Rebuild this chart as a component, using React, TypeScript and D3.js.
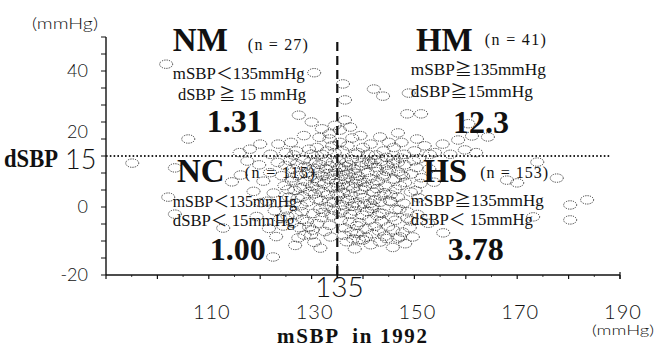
import React from "react";
import * as d3 from "d3";

// mSBP (mmHg) vs dSBP (mmHg), one pair per subject
const nmPoints: [number, number][] = [
  [101.7, 42], [130.5, 39.5], [106, 20], [120, 18.5], [123.5, 18.5], [126, 19],
  [127.5, 27], [130, 25], [132, 23], [133.5, 20], [129.5, 17], [131, 17.5],
  [133, 16.5], [125, 16], [127, 16.5], [128.5, 21], [131.5, 20.5], [134, 18],
  [134.5, 24], [116, 16], [132, 15.5], [130, 15.5], [126.5, 15.3], [134.5, 16],
  [133.5, 21.5], [122, 15.5], [118, 17],
];

const hmPoints: [number, number][] = [
  [136.1, 36.2], [136.5, 31.5], [142.1, 34.7], [143.9, 32.6], [148.9, 33.5], [148.6, 27.4],
  [151.3, 27.4], [136.5, 25.6], [135.5, 22.6], [137.9, 20.3], [143.3, 20.6], [146.8, 21.8],
  [158.5, 19.7], [161.2, 20.9], [164.3, 20.6], [160.5, 24.5], [159.8, 16.8], [140, 17.5],
  [139, 16], [141.5, 18.5], [144, 16.5], [146, 17.5], [148, 15.5], [150, 16.5],
  [152, 18], [154, 16], [137, 18], [136, 16.5], [138.5, 15.5], [142.5, 15.3],
  [145, 19], [155.5, 18.5], [157, 15.5], [150.5, 20], [139.5, 21], [147.5, 19],
  [153, 15.5], [162, 16], [141, 15.5], [135.5, 19], [137.5, 23.5],
];

const ncPoints: [number, number][] = [
  [95.1, 12.9], [103.4, 11.5], [114.5, 7.4], [102.1, 2.9], [103.4, -2.1], [112.8, -6.2], [122.5, -14.7],
  [128.3, 3.1], [130.7, 8.4], [132.2, -1.6], [126.4, 11.2], [133.8, 5.7], [129.1, -4.3], [131.5, 12.6],
  [124.7, 6.3], [127.9, 0.4], [133.1, 9.8], [130.2, -6.8], [125.6, 2.9], [132.7, 13.4], [128.8, 7.5],
  [121.9, 10.1], [134.3, 1.2], [129.6, 4.6], [131.9, -3.1], [126.9, -2.2], [123.4, 13.1], [133.5, -5.4],
  [127.2, 9.3], [130.9, 2.2], [119.8, 12.4], [132.4, 6.9], [125.1, -0.8], [128.5, 13.9], [134.6, 10.6],
  [122.6, 4.1], [129.9, -8.2], [131.2, 5.3], [126.1, 7.8], [133.9, -2.6], [127.6, -6.1], [130.4, 11.4],
  [124.2, 9.2], [132.9, 0.1], [128.1, -1.4], [134.1, 13.2], [121.3, 1.7], [129.4, 10.2], [131.6, -0.6],
  [126.7, 4.9], [133.2, 3.6], [125.8, 13.6], [130.1, 6.1], [127.4, -9.1], [132.1, 9.1], [123.9, -3.4],
  [134.8, 7.1], [128.7, 11.9], [131.1, -4.9], [120.6, 7.6], [129.2, 1.5], [133.6, 12.1], [126.3, -4.7],
  [130.6, 3.9], [124.9, 12.2], [132.6, -7.2], [127.8, 5.6], [134.4, -0.9], [122.8, -1.1], [129.7, 8.9],
  [131.8, 1.9], [125.4, 5.1], [133.3, 8.2], [128.2, -3.6], [130.8, 13.1], [126.6, 1.1], [132.3, 4.4],
  [118.7, 4.6], [129.5, -5.9], [134.9, 3.9], [127.1, 12.7], [131.4, 7.3], [124.5, -5.6], [133.7, -8.8],
  [128.9, 9.9], [130.3, -1.9], [126.2, 8.6], [132.8, 11.2], [121.7, -6.3], [129.8, 13.4], [131.3, 10.1],
  [125.3, -2.7], [133.4, 1.6], [127.3, 2.6], [130.5, -10.4], [134.2, 9.3], [128.4, 5.9], [116.2, 9.4],
  [119.3, -2.8], [123.1, -8.7], [117.5, 13.5], [120.2, 1.3], [126.8, -11.3], [131.7, -12.1], [128.6, -8.3],
];

const hsPoints: [number, number][] = [
  [173.9, 13.2], [177.7, 8.5], [183.6, 2.1], [180.3, 0.6], [180.3, -3.8], [173.1, -2.9], [170, 7.1],
  [168, 7.9], [147.2, -8.8], [149.7, -8.8], [155.6, -7.6], [140, -9.7], [143.3, -10.3],
  [136.2, 4.1], [138.7, 8.3], [135.4, 11.6], [140.1, 2.7], [137.5, -2.1], [141.9, 6.8], [136.8, 13.2],
  [139.3, -4.6], [135.9, 0.6], [142.6, 10.4], [138.1, 5.5], [137.2, 9.7], [140.8, -1.3], [136.5, -6.2],
  [143.4, 3.3], [139.7, 12.1], [135.6, 7.4], [141.2, -3.8], [138.4, 1.2], [144.1, 8.9], [137.8, 13.9],
  [140.4, 5.9], [136.1, -0.9], [142.3, -5.7], [139.1, 9.1], [135.2, 3.2], [145.2, 1.8], [138.9, -7.8],
  [141.6, 12.8], [137.1, 6.2], [143.8, -1.9], [136.7, 10.8], [140.6, -8.9], [139.5, 3.8], [135.7, -3.9],
  [142.9, 7.6], [138.2, 11.1], [146.3, 5.2], [137.4, -4.4], [141.4, 1.1], [136.4, 8.1], [144.7, 12.3],
  [139.9, -2.4], [135.3, 13.6], [143.1, -7.1], [138.6, 6.9], [140.9, 10.2], [137.9, 0.2], [147.4, 9.6],
  [136.9, 2.4], [142.1, 4.3], [139.2, -9.6], [145.6, -2.9], [135.8, 9.2], [141.1, 13.4], [138.3, -1.2],
  [144.4, 6.1], [137.3, 12.4], [140.2, 7.3], [143.6, -4.2], [136.3, -8.3], [146.8, 2.9], [139.6, 5.1],
  [142.4, 11.7], [138.8, -5.5], [135.1, 5.8], [141.7, -0.4], [145.1, 10.9], [137.6, 3.5], [140.5, -6.4],
  [148.2, 7.2], [136.6, 11.9], [143.3, 1.4], [139.8, 13.1], [142.8, -2.6], [138.5, 9.9], [144.9, -5.8],
  [137.7, -7.3], [141.3, 8.4], [147.1, -0.7], [136.1, 6.6], [140.3, 0.9], [145.9, 13.8], [139.4, 7.8],
  [143.9, 9.4], [135.5, -1.8], [142.2, 2.1], [138.1, -9.4], [149.3, 4.4], [141.8, -7.9], [137.1, 1.9],
  [146.1, 8.2], [140.7, 12.6], [144.2, -8.6], [139.1, 0.4], [150.4, 11.6], [142.7, 5.4], [136.8, -10.2],
  [148.6, -3.3], [145.4, 3.6], [147.2, 6.3], [148.6, -1.4], [146.8, 13.1], [149.4, 9.7], [145.9, -6.7],
  [147.9, 1.1], [150.2, 4.8], [144.6, -9.3], [148.1, 12.4], [149.3, -4.1], [146.8, 10.3], [151.4, 8.6],
  [147.7, -7.4], [150.8, 2.7], [149.9, 13.6], [146.4, -0.8], [152.9, 11.2], [150.6, -2.2], [151.2, 6.9],
  [148.2, -10.8], [143.5, 13.4], [149.1, -6.1], [145.4, 1.6], [147.8, 9.1], [146.8, -9.2], [144.1, 4.2],
  [145.9, 12.9], [143.2, -1.7], [144.6, 10.5], [146.3, -3.9], [147.3, 14.4], [144.6, 14.6], [150.9, 14.2],
  [141.5, -11.1], [145.8, -11.9], [138.4, -12.3], [153.8, 7.3], [152.7, -4.8], [142.3, 13.9], [141.9, 0.3],
];

const xTickLabels = [110, 130, 150, 170, 190];
const yTickLabels = [40, 20, 0, -20];
const mSBPCut = 135;
const dSBPCut = 15;

const serif = "'Liberation Serif', 'Noto Sans CJK JP', serif";
const thin = "Lato, 'DejaVu Sans', sans-serif";

const x = d3.scaleLinear().domain([90, 190]).range([106, 620]);
const y = d3.scaleLinear().domain([-20, 50]).range([275, 37]);

// quadrant annotations, placed in data coordinates
const groups = [
  { name: "NM", n: "(n = 27)", nW: 60, l1: "mSBP＜135mmHg", l2: "dSBP ≧ 15 mmHg", or: "1.31",
    at: [103, 45.9], nAt: [117.6, 46.2], l1At: [103, 37.6], l1W: 132, l2At: [104, 31.4], l2W: 128, orAt: [109.6, 22] },
  { name: "HM", n: "(n = 41)", nW: 61, l1: "mSBP≧135mmHg", l2: "dSBP≧15mmHg", or: "12.3",
    at: [150.3, 45.9], nAt: [163.7, 47.6], l1At: [149.3, 38.8], l1W: 135, l2At: [149.3, 32.4], l2W: 122, orAt: [157.5, 21.8] },
  { name: "NC", n: "(n = 115)", nW: 70, l1: "mSBP＜135mmHg", l2: "dSBP＜ 15mmHg", or: "1.00",
    at: [103.8, 7.4], nAt: [117, 8.5], l1At: [103, 0], l1W: 124, l2At: [103, -5.6], l2W: 122, orAt: [110.2, -15.6] },
  { name: "HS", n: "(n = 153)", nW: 68, l1: "mSBP≧135mmHg", l2: "dSBP＜ 15mmHg", or: "3.78",
    at: [151.7, 7.4], nAt: [162.8, 8.5], l1At: [149.3, 0.3], l1W: 133, l2At: [149.3, -5.3], l2W: 122, orAt: [156.5, -15.6] },
];

function Dots({ data }: { data: [number, number][] }) {
  return (
    <g fill="none" stroke="#1a1a1a" strokeWidth={0.85} strokeDasharray="1.2 1.1">
      {data.map((d, i) => (
        <ellipse key={i} cx={x(d[0])} cy={y(d[1])} rx={6.5} ry={4.2} />
      ))}
    </g>
  );
}

export default function App() {
  const minorX = d3.range(90, 191, 5);
  const minorY = d3.range(-20, 51, 5);
  return (
    <svg width={656} height={349} style={{ position: "absolute", left: 0, top: 0, background: "#fff" }}>
      <Dots data={ncPoints} />
      <Dots data={hsPoints} />
      <Dots data={nmPoints} />
      <Dots data={hmPoints} />

      {/* axes */}
      <line x1={x(90)} x2={x(90)} y1={y(50)} y2={y(-20)} stroke="#111" strokeWidth={1.4} />
      <line x1={x(90)} x2={x(190)} y1={y(-20)} y2={y(-20)} stroke="#111" strokeWidth={1.4} />
      {minorY.map(v => (
        <line key={v} x1={x(90) - 5} x2={x(90)} y1={y(v)} y2={y(v)} stroke="#111" strokeWidth={1} />
      ))}
      {minorX.map(v => (
        <line key={v} x1={x(v)} x2={x(v)} y1={y(-20)} y2={y(-20) + (v % 10 === 0 ? 4 : 2)}
          stroke="#111" strokeWidth={v % 10 === 0 ? 1.2 : 0.8} />
      ))}
      <line x1={x(190)} x2={x(190)} y1={y(-20) - 3} y2={y(-20) + 4} stroke="#111" strokeWidth={1.2} />

      {/* cut-off lines */}
      <line x1={x(90)} x2={x(188.3)} y1={y(dSBPCut)} y2={y(dSBPCut)}
        stroke="#222" strokeWidth={2} strokeDasharray="1.6 2.2" />
      <line x1={x(mSBPCut)} x2={x(mSBPCut)} y1={y(48.5)} y2={y(-20)}
        stroke="#111" strokeWidth={2.2} strokeDasharray="9 5" />
      <line x1={x(mSBPCut)} x2={x(mSBPCut)} y1={y(-20) - 11} y2={y(-20) + 3} stroke="#111" strokeWidth={1.6} />

      {/* tick labels */}
      {yTickLabels.map(v => (
        <text key={v} x={88} y={y(v) + (v === 20 ? -1 : 6)} textAnchor="end" fontFamily={thin} fontWeight={300}
          fontSize={18} fill="#111">{v}</text>
      ))}
      {xTickLabels.map(v => (
        <text key={v} x={x(v) + 3} y={319} textAnchor="middle" fontFamily={thin} fontWeight={300}
          fontSize={20} fill="#111" letterSpacing={1}>{v}</text>
      ))}
      <text x={x(mSBPCut) + 2} y={297} textAnchor="middle" fontFamily={thin} fontWeight={300}
        fontSize={28} fill="#111">{mSBPCut}</text>
      <text x={32} y={29} fontFamily={thin} fontWeight={300} fontSize={16} fill="#111"
        textLength={66} lengthAdjust="spacingAndGlyphs">(mmHg)</text>
      <text x={592} y={335} fontFamily={thin} fontWeight={300} fontSize={14} fill="#111"
        textLength={62} lengthAdjust="spacingAndGlyphs">(mmHg)</text>
      <text x={4} y={167} fontFamily={serif} fontWeight="bold" fontSize={25} fill="#111"
        textLength={54} lengthAdjust="spacingAndGlyphs">dSBP</text>
      <text x={65} y={169} fontFamily={thin} fontWeight={300} fontSize={27} fill="#111">{dSBPCut}</text>
      <text x={277} y={343} fontFamily={serif} fontWeight="bold" fontSize={21} fill="#111"
        textLength={150} lengthAdjust="spacing" xmlSpace="preserve">mSBP  in 1992</text>

      {/* quadrant annotations */}
      {groups.map(g => (
        <g key={g.name} fill="#111" fontFamily={serif}>
          <text x={x(g.at[0])} y={y(g.at[1])} fontSize={33} fontWeight="bold">{g.name}</text>
          <text x={x(g.nAt[0])} y={y(g.nAt[1])} fontSize={16} textLength={g.nW} lengthAdjust="spacing">{g.n}</text>
          <text x={x(g.l1At[0])} y={y(g.l1At[1])} fontSize={16} textLength={g.l1W} lengthAdjust="spacingAndGlyphs">
            {g.l1}
          </text>
          <text x={x(g.l2At[0])} y={y(g.l2At[1])} fontSize={16} textLength={g.l2W} lengthAdjust="spacingAndGlyphs">
            {g.l2}
          </text>
          <text x={x(g.orAt[0])} y={y(g.orAt[1])} fontSize={32} fontWeight="bold">{g.or}</text>
        </g>
      ))}
    </svg>
  );
}
